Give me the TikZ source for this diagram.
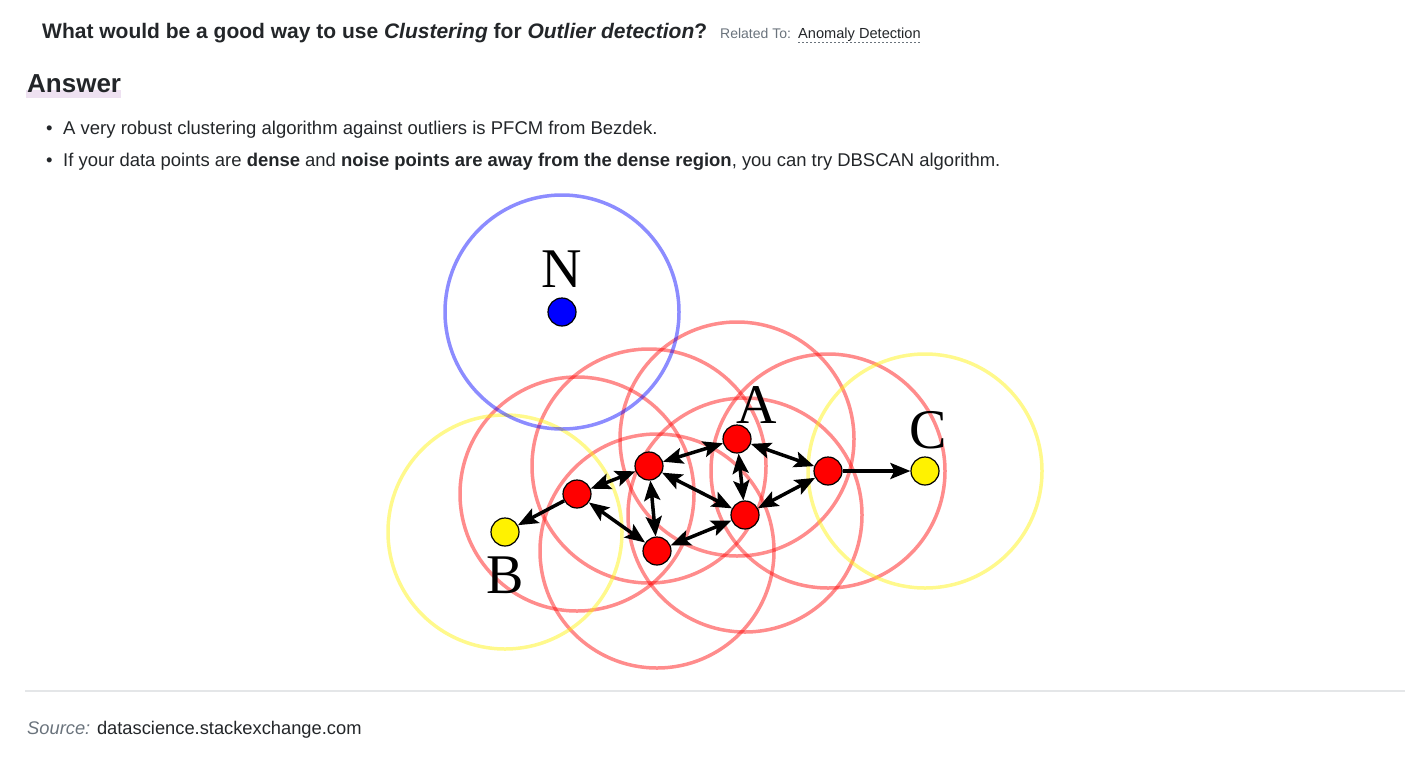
\documentclass[tikz,border=0pt]{standalone}
\usepackage{fontspec}
\setmainfont{Liberation Sans}
\newfontfamily\labelfont{Liberation Serif}
\usetikzlibrary{arrows.meta,backgrounds}
\definecolor{txtdark}{HTML}{232629}
\definecolor{txtgrey}{HTML}{6A737C}
\definecolor{hlpink}{HTML}{EEE1F1}
\definecolor{rulegrey}{HTML}{E4E6E8}

\begin{document}
\begin{tikzpicture}[x=1pt, y=-1pt,
    txt/.style={anchor=base west, inner sep=0pt, text=txtdark},
    pt/.style={circle, draw=black, line width=1.2pt, minimum size=28pt, inner sep=0pt},
    reach/.style={line width=3.5pt, draw opacity=0.45},
    tip/.tip={Stealth[length=20pt,width=16pt,inset=4pt]},
    link/.style={line width=3.5pt, tip-tip},
    lbl/.style={font=\labelfont\fontsize{56}{56}\selectfont, anchor=base, inner sep=0pt}]
    \useasboundingbox (0,0) rectangle (1424,758);

    % header and answer text
    \node[txt, font=\bfseries\fontsize{21}{25}\selectfont] (title) at (42,38)
        {What would be a good way to use \textit{Clustering} for \textit{Outlier detection}?};
    \node[txt, font=\fontsize{14}{17}\selectfont, text=txtgrey] (rel) at (720,38) {Related To:};
    \node[txt, font=\fontsize{14.6}{17}\selectfont] (anom) at (798,38) {Anomaly Detection};
    \draw[txtgrey, line width=0.8pt, dash pattern=on 2pt off 2pt]
        ([yshift=-4.5pt]anom.base west) -- ([yshift=-4.5pt]anom.base east);
    \fill[hlpink] (26,90) rectangle (121,98);
    \node[txt, font=\bfseries\fontsize{26}{30}\selectfont] (answer) at (27,92) {Answer};
    \node[txt, font=\fontsize{18.5}{22}\selectfont] (dot1) at (46,134) {\textbullet};
    \node[txt, font=\fontsize{18.5}{22}\selectfont] (item1) at (63,134)
        {A very robust clustering algorithm against outliers is PFCM from Bezdek.};
    \node[txt, font=\fontsize{18.5}{22}\selectfont] (dot2) at (46,166) {\textbullet};
    \node[txt, font=\fontsize{18.45}{22}\selectfont] (item2) at (63,166)
        {If your data points are \textbf{dense} and \textbf{noise points are away from the dense region}, you can try DBSCAN algorithm.};

    % points
    \node[pt, fill=blue] (n) at (562,312) {};
    \node[pt, fill=red] (a) at (737,439) {};
    \node[pt, fill=red] (k1) at (649,466) {};
    \node[pt, fill=red] (k2) at (577,494) {};
    \node[pt, fill=red] (k3) at (657,551) {};
    \node[pt, fill=red] (k4) at (745,515) {};
    \node[pt, fill=red] (k5) at (828,471) {};
    \node[pt, fill=yellow] (b) at (505,532) {};
    \node[pt, fill=yellow] (c) at (925,471) {};

    \node[lbl] (nlabel) at (562,287) {N};
    \node[lbl] (alabel) at (757,423) {A};
    \node[lbl] (clabel) at (928,448) {C};
    \node[lbl] (blabel) at (505,593) {B};

    % reachability
    \draw[link] (a) -- (k1);
    \draw[link] (a) -- (k5);
    \draw[link] (a) -- (k4);
    \draw[link] (k1) -- (k2);
    \draw[link] (k1) -- (k3);
    \draw[link] (k1) -- (k4);
    \draw[link] (k2) -- (k3);
    \draw[link] (k3) -- (k4);
    \draw[link] (k4) -- (k5);
    \draw[line width=3.5pt, -tip] (k2) -- (b);
    \draw[line width=3.5pt, -tip] (k5) -- (c);

    % eps circles
    \begin{pgfonlayer}{background}
    \foreach \p in {a,k1,k2,k3,k4,k5}
        \draw[reach, red] (\p) circle (117pt);
    \draw[reach, yellow] (b) circle (117pt);
    \draw[reach, yellow] (c) circle (117pt);
    \draw[reach, blue] (n) circle (117pt);
    \end{pgfonlayer}

    \draw[rulegrey, line width=1.5pt] (25,691) -- (1405,691);
    \node[txt, font=\fontsize{18.3}{22}\selectfont] (source) at (27,734)
        {\textcolor{txtgrey}{\textit{Source:}} datascience.stackexchange.com};
\end{tikzpicture}
\end{document}
